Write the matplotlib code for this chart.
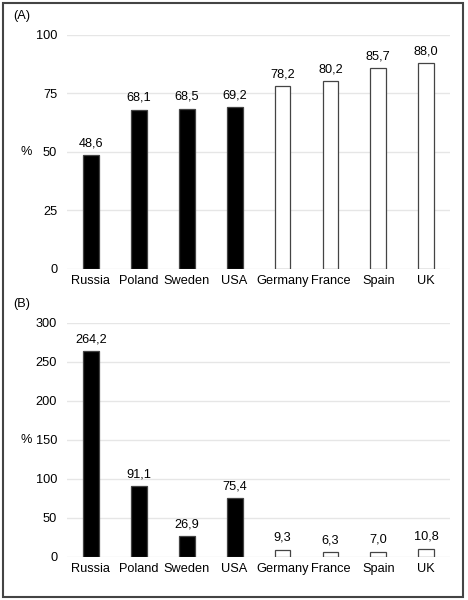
import numpy as np
import matplotlib.pyplot as plt
from matplotlib.patches import Rectangle

plt.rcParams["font.family"] = ["Liberation Sans", "DejaVu Sans"]

countries = ["Russia", "Poland", "Sweden", "USA", "Germany", "France", "Spain", "UK"]
values_a = [48.6, 68.1, 68.5, 69.2, 78.2, 80.2, 85.7, 88.0]
values_b = [264.2, 91.1, 26.9, 75.4, 9.3, 6.3, 7.0, 10.8]
filled = [True, True, True, True, False, False, False, False]

fig = plt.figure(figsize=(4.68, 6.0), dpi=100)
fig.patches.append(Rectangle((0.006, 0.005), 0.984, 0.99, transform=fig.transFigure,
                             fill=False, edgecolor="#444444", linewidth=1.5))

ax_a = fig.add_axes([0.143, 0.5517, 0.819, 0.39])
ax_b = fig.add_axes([0.143, 0.0717, 0.819, 0.39])


def draw_panel(ax, vals, ymax, step, label):
    x = np.arange(len(countries))
    colors = ["black" if f else "white" for f in filled]
    bars = ax.bar(x, vals, width=0.33, color=colors, edgecolor="#444444", linewidth=0.9, zorder=3)
    for b, v in zip(bars, vals):
        ax.text(b.get_x() + b.get_width() / 2, v + ymax * 0.025, f"{v:.1f}".replace(".", ","),
                ha="center", va="bottom", fontsize=9.2, zorder=4)
    ax.set_xlim(-0.5, len(countries) - 0.5)
    ax.set_ylim(0, ymax)
    ax.set_yticks(np.arange(0, ymax + 1, step))
    ax.set_xticks(x)
    ax.set_xticklabels(countries)
    ax.grid(axis="y", color="#e6e6e6", linewidth=1, zorder=0)
    ax.set_axisbelow(True)
    for s in ax.spines.values():
        s.set_visible(False)
    ax.tick_params(length=0, labelsize=9.2, pad=4)
    ax.tick_params(axis="y", pad=7)
    ax.set_ylabel("%", rotation=0, fontsize=9.2, va="center", ha="center")
    ax.yaxis.set_label_coords(-0.107, 0.5)
    ax.text(-0.141, 1.079, label, transform=ax.transAxes, fontsize=9.2, ha="left", va="center")


draw_panel(ax_a, values_a, 100, 25, "(A)")
draw_panel(ax_b, values_b, 300, 50, "(B)")

fig.savefig("out.png", dpi=100)
